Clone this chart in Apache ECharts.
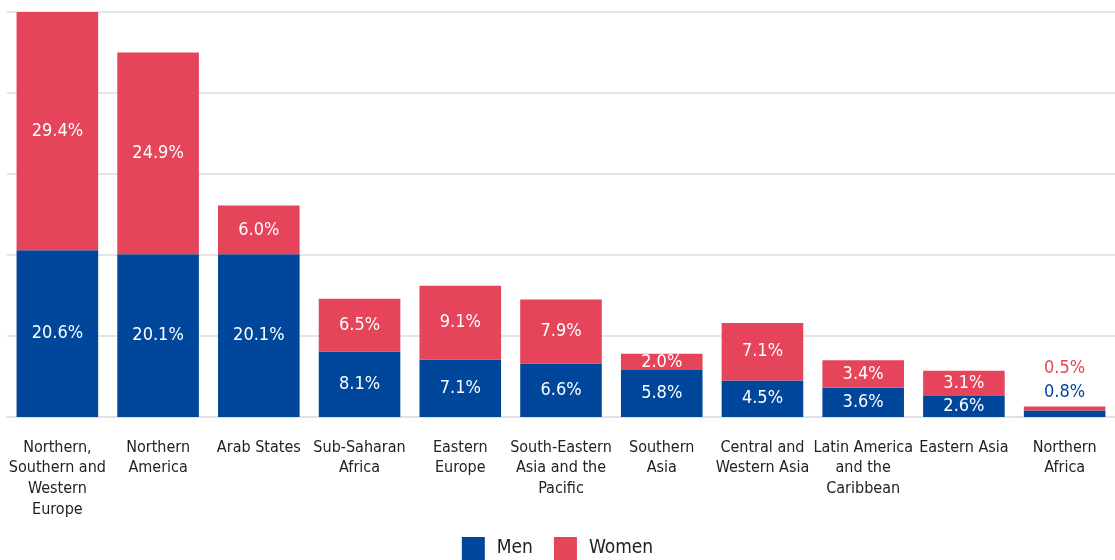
<!DOCTYPE html>
<html>
<head>
<meta charset="utf-8">
<script src="https://cdn.jsdelivr.net/npm/echarts@6/dist/echarts.min.js"></script>
<style>
  html, body { margin: 0; padding: 0; background: #fff; }
  #chart { width: 1115px; height: 560px; }
</style>
</head>
<body>
<div id="chart"></div>
<script>
// regions, as printed under the bars
var categories = [
  'Northern,\nSouthern and\nWestern\nEurope',
  'Northern\nAmerica',
  'Arab States',
  'Sub-Saharan\nAfrica',
  'Eastern\nEurope',
  'South-Eastern\nAsia and the\nPacific',
  'Southern\nAsia',
  'Central and\nWestern Asia',
  'Latin America\nand the\nCaribbean',
  'Eastern Asia',
  'Northern\nAfrica'
];
var men = [20.6, 20.1, 20.1, 8.1, 7.1, 6.6, 5.8, 4.5, 3.6, 2.6, 0.8];
var women = [29.4, 24.9, 6.0, 6.5, 9.1, 7.9, 2.0, 7.1, 3.4, 3.1, 0.5];

var BLUE = '#00479b';
var RED = '#e5445a';
var FONT = 'DejaVu Sans Condensed';

// bars too thin to hold their label get it drawn above instead
function withLabels (values, color, distance) {
  return values.map(function (v, i) {
    if (men[i] + women[i] >= 3) return v;
    return {
      value: v,
      label: { position: 'top', color: color, distance: distance }
    };
  });
}

var chart = echarts.init(document.getElementById('chart'));
chart.setOption({
  animation: false,
  textStyle: { fontFamily: FONT },
  grid: { left: 7, right: 0, top: 12, bottom: 143 },
  legend: {
    bottom: -5,
    left: 'center',
    itemWidth: 23,
    itemHeight: 23,
    itemGap: 21,
    icon: 'rect',
    textStyle: { fontSize: 19, color: '#222', fontFamily: FONT, padding: [0, 0, 0, 7] },
    data: ['Men', 'Women']
  },
  xAxis: {
    type: 'category',
    data: categories,
    axisLine: { lineStyle: { color: '#e2e2e2', width: 2 } },
    axisTick: { show: false },
    axisLabel: {
      interval: 0,
      margin: 20,
      fontSize: 16,
      lineHeight: 20.7,
      color: '#222',
      fontFamily: FONT
    }
  },
  yAxis: {
    type: 'value',
    min: 0,
    max: 50,
    interval: 10,
    axisLabel: { show: false },
    splitLine: { lineStyle: { color: '#e5e5e5', width: 2 } }
  },
  series: [
    {
      name: 'Men',
      type: 'bar',
      stack: 'total',
      barCategoryGap: '19%',
      itemStyle: { color: BLUE },
      label: {
        show: true,
        position: 'inside',
        color: '#fff',
        fontSize: 18,
        fontFamily: FONT,
        formatter: function (p) { return p.value.toFixed(1) + '%'; }
      },
      data: withLabels(men, BLUE, 9)
    },
    {
      name: 'Women',
      type: 'bar',
      stack: 'total',
      itemStyle: { color: RED },
      label: {
        show: true,
        position: 'inside',
        color: '#fff',
        fontSize: 18,
        fontFamily: FONT,
        formatter: function (p) { return p.value.toFixed(1) + '%'; }
      },
      data: withLabels(women, RED, 29)
    }
  ]
});
</script>
</body>
</html>
